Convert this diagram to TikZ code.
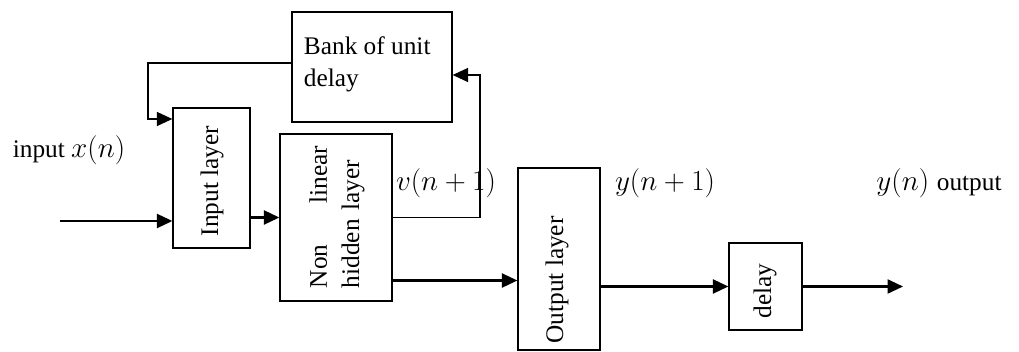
\documentclass[tikz,border=0pt]{standalone}
\usepackage{fontspec}
\setmainfont{Liberation Serif}
\usepackage{amsmath}
\usetikzlibrary{arrows.meta}
\usetikzlibrary{positioning}
\tikzset{
  blk/.style={draw, line width=0.9pt, inner sep=0pt},
  txt/.style={font=\fontsize{18}{23}\selectfont, inner sep=0pt},
  mth/.style={font=\fontsize{22}{26}\selectfont, inner sep=0pt},
  arr/.style={line width=0.9pt, -{Triangle[length=11pt,width=10pt]}},
  warr/.style={line width=1.5pt, -{Triangle[length=11pt,width=10pt]}}
}
\begin{document}
\begin{tikzpicture}[x=0.025cm,y=-0.025cm]
\useasboundingbox (0,0) rectangle (1019,352);

\node[blk, minimum width=4cm, minimum height=2.75cm] (bank) at (372,67) {};
\node[txt, text width=3.5cm, align=justify] (banktxt) at (374,64) {Bank of unit\\delay};
\node[blk, minimum width=1.925cm, minimum height=3.5cm] (inp) at (211.5,178) {};
\node[txt, rotate=90] (inptxt) at (212,181) {Input layer};
\node[blk, minimum width=2.8cm, minimum height=4.175cm] (hid) at (336,217.5) {};
\node[txt, rotate=90, text width=3.55cm] (hidtxt) at (337,217) {Non \hfill linear\\hidden layer};
\node[blk, minimum width=2.05cm, minimum height=4.55cm] (out) at (559,259) {};
\node[txt, rotate=90] (outtxt) at (557,280) {Output layer};
\node[blk, minimum width=1.825cm, minimum height=2.175cm] (dly) at (765.5,286.5) {};
\node[txt, rotate=90] (dlytxt) at (765,291) {delay};

\node[txt] (xin) at (69,150) {input \fontsize{22}{26}\selectfont$x(n)$};
\node[mth] (vlab) at (446,183) {$v(n+1)$};
\node[mth] (ylab) at (665,183) {$y(n+1)$};
\node[txt] (yout) at (939,183) {\fontsize{22}{26}\selectfont$y(n)$ \fontsize{18}{23}\selectfont output};

\coordinate (src) at (60,221);
\coordinate (fb) at (480,75);
\coordinate (back) at (148,119);
\coordinate (dst) at (903,288);

\draw[warr] (src) -- (src -| inp.west);
\draw[warr] (inp.east |- hid.west) -- (hid.west);
\draw[arr] (hid.east) -| (fb) -- (fb -| bank.east);
\draw[arr] ([yshift=0.1cm]bank.west) -| (back) -- (back -| inp.west);
\draw[warr] ([yshift=-1.575cm]hid.east) -- ([yshift=-1.575cm]hid.east -| out.west);
\draw[warr] (out.east |- dly.west) -- (dly.west);
\draw[warr] (dly.east) -- (dly.east -| dst);
\end{tikzpicture}
\end{document}
